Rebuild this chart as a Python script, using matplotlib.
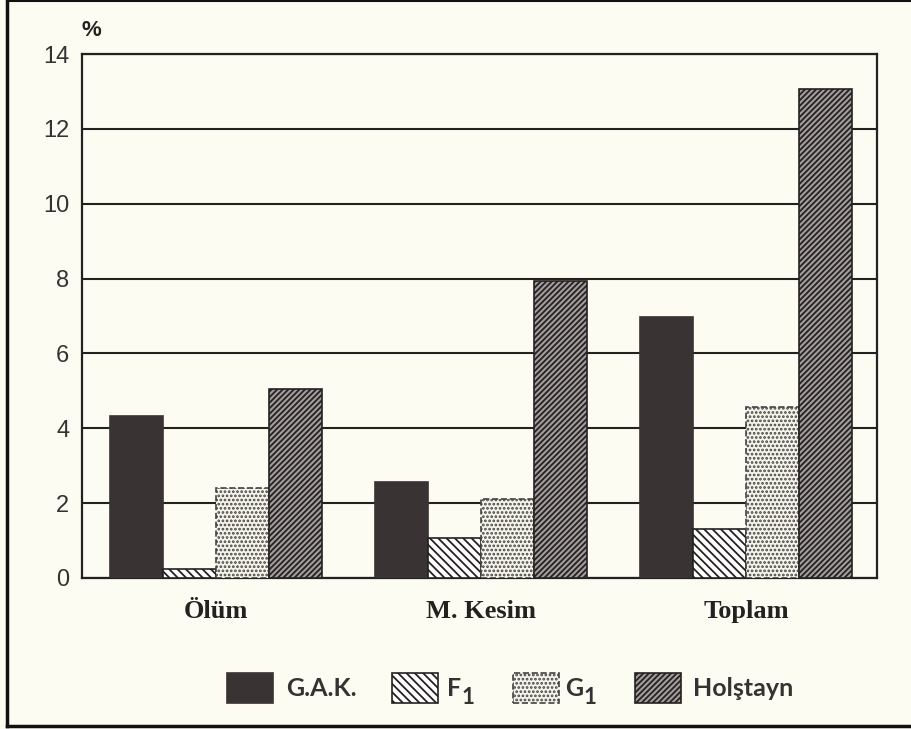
import numpy as np
import matplotlib.pyplot as plt
from matplotlib.patches import Rectangle
from matplotlib.lines import Line2D

# yüzde değerleri, gruplar: Ölüm, M. Kesim, Toplam
groups = ['Ölüm', 'M. Kesim', 'Toplam']
gak = [4.33, 2.57, 6.98]
f1 = [0.24, 1.07, 1.31]
g1 = [2.40, 2.11, 4.57]
holstayn = [5.05, 7.94, 13.07]
yticks = [0, 2, 4, 6, 8, 10, 12, 14]
legend_labels = [('G.A.K.', ''), ('F', '1'), ('G', '1'), ('Holştayn', '')]

bg = '#fdfcf3'
dark = '#3a3334'
ink = '#252121'

plt.rcParams['hatch.linewidth'] = 1.3

fig = plt.figure(figsize=(9.12, 7.29), dpi=100, facecolor=bg)
ax = fig.add_axes([82/912, 1 - 578/729, 795/912, 524/729])
ax.set_facecolor(bg)

x = np.arange(len(groups)) * 5.0
styles = [
    (gak, dict(facecolor=dark, edgecolor=dark)),
    (f1, dict(facecolor='white', edgecolor=ink, hatch='\\\\\\\\')),
    (g1, dict(facecolor='#f6f4ea', edgecolor='#444', hatch='....', linestyle='--')),
    (holstayn, dict(facecolor='#a29c9c', edgecolor=ink, hatch='//////')),
]
for i, (vals, st) in enumerate(styles):
    ax.bar(x - 1.5 + i, vals, width=1.0, linewidth=1.2, zorder=3, **st)

ax.set_xlim(-2.53, 12.47)
ax.set_ylim(0, 14)
ax.set_yticks(yticks)
ax.set_yticklabels([str(v) for v in yticks], fontsize=17, color='#333',
                   family='Liberation Sans')
ax.tick_params(axis='y', length=0, pad=9)
ax.tick_params(axis='x', length=0, pad=16)
ax.set_xticks(x)
ax.set_xticklabels(groups, fontsize=19, fontweight='bold',
                   family='Liberation Serif', color=ink)
ax.yaxis.grid(True, color=ink, linewidth=1.5, zorder=0)
ax.set_axisbelow(True)
for s in ax.spines.values():
    s.set_color(ink)
    s.set_linewidth(1.6)

fig.text(91/912, 1 - 30/729, '%', fontsize=16, color=ink, fontweight='bold',
         ha='center', va='center', family='Liberation Sans')

# legend, drawn by hand to keep the uneven spacing of the original
patch_x = [227, 392, 513, 635]
label_gap = [59, 55, 52, 58]
sub_gap = [0, 70, 71, 0]
for px, gap, sg, (_, st), (lab, sub) in zip(patch_x, label_gap, sub_gap,
                                             styles, legend_labels):
    fig.add_artist(Rectangle((px/912, 1 - 703/729), 46/912, 30/729,
                             transform=fig.transFigure, linewidth=1.2, **st))
    fig.text((px + gap)/912, 1 - 688/729, lab, fontsize=18, fontweight='bold',
             family='Lato', color='#333', ha='left', va='center')
    if sub:
        fig.text((px + sg)/912, 1 - 697/729, sub, fontsize=16, fontweight='bold',
                 family='Lato', color='#333', ha='left', va='center')

# outer frame of the scanned page
fig.add_artist(Line2D([7/912, 7/912], [1 - 726/729, 1], color='#111', lw=2.5))
fig.add_artist(Line2D([7/912, 910/912], [1 - 726/729, 1 - 726/729], color='#111', lw=2.5))
fig.add_artist(Line2D([7/912, 910/912], [0.999, 0.999], color='#111', lw=1.5))

fig.savefig('out.png', dpi=100, facecolor=bg)
